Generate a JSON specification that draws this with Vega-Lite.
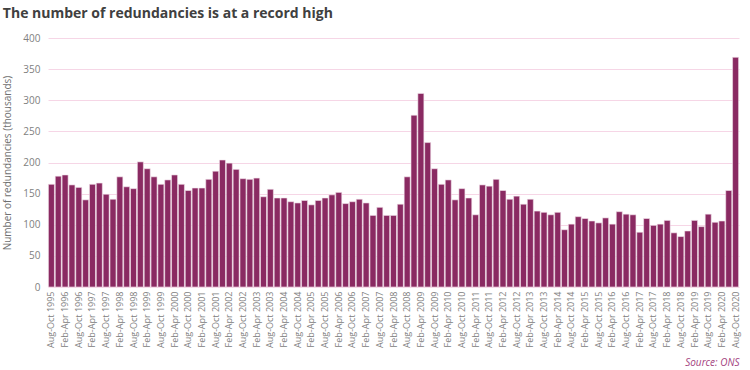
{
  "$schema": "https://vega.github.io/schema/vega-lite/v6.json",
  "width": 691,
  "height": 249,
  "autosize": {"type": "none"},
  "padding": {"left": 48, "top": 38, "right": 11, "bottom": 83},
  "background": "white",
  "title": {
    "text": "The number of redundancies is at a record high",
    "anchor": "start",
    "frame": "bounds",
    "font": "Open Sans",
    "fontSize": 14,
    "fontWeight": "bold",
    "color": "#404040",
    "offset": 12
  },
  "config": {
    "view": {"stroke": null},
    "font": "Open Sans"
  },
  "data": {
    "values": [
      {"period": "Aug-Oct 1995", "value": 165},
      {"period": "Nov-Jan 1996", "value": 178},
      {"period": "Feb-Apr 1996", "value": 180},
      {"period": "May-Jul 1996", "value": 164},
      {"period": "Aug-Oct 1996", "value": 160},
      {"period": "Nov-Jan 1997", "value": 140},
      {"period": "Feb-Apr 1997", "value": 165},
      {"period": "May-Jul 1997", "value": 167},
      {"period": "Aug-Oct 1997", "value": 149},
      {"period": "Nov-Jan 1998", "value": 141},
      {"period": "Feb-Apr 1998", "value": 177},
      {"period": "May-Jul 1998", "value": 161},
      {"period": "Aug-Oct 1998", "value": 158},
      {"period": "Nov-Jan 1999", "value": 201},
      {"period": "Feb-Apr 1999", "value": 190},
      {"period": "May-Jul 1999", "value": 177},
      {"period": "Aug-Oct 1999", "value": 165},
      {"period": "Nov-Jan 2000", "value": 172},
      {"period": "Feb-Apr 2000", "value": 180},
      {"period": "May-Jul 2000", "value": 165},
      {"period": "Aug-Oct 2000", "value": 155},
      {"period": "Nov-Jan 2001", "value": 159},
      {"period": "Feb-Apr 2001", "value": 159},
      {"period": "May-Jul 2001", "value": 173},
      {"period": "Aug-Oct 2001", "value": 186},
      {"period": "Nov-Jan 2002", "value": 204},
      {"period": "Feb-Apr 2002", "value": 199},
      {"period": "May-Jul 2002", "value": 189},
      {"period": "Aug-Oct 2002", "value": 174},
      {"period": "Nov-Jan 2003", "value": 173},
      {"period": "Feb-Apr 2003", "value": 175},
      {"period": "May-Jul 2003", "value": 145},
      {"period": "Aug-Oct 2003", "value": 157},
      {"period": "Nov-Jan 2004", "value": 143},
      {"period": "Feb-Apr 2004", "value": 143},
      {"period": "May-Jul 2004", "value": 137},
      {"period": "Aug-Oct 2004", "value": 135},
      {"period": "Nov-Jan 2005", "value": 139},
      {"period": "Feb-Apr 2005", "value": 132},
      {"period": "May-Jul 2005", "value": 139},
      {"period": "Aug-Oct 2005", "value": 143},
      {"period": "Nov-Jan 2006", "value": 148},
      {"period": "Feb-Apr 2006", "value": 152},
      {"period": "May-Jul 2006", "value": 134},
      {"period": "Aug-Oct 2006", "value": 137},
      {"period": "Nov-Jan 2007", "value": 141},
      {"period": "Feb-Apr 2007", "value": 135},
      {"period": "May-Jul 2007", "value": 115},
      {"period": "Aug-Oct 2007", "value": 128},
      {"period": "Nov-Jan 2008", "value": 115},
      {"period": "Feb-Apr 2008", "value": 115},
      {"period": "May-Jul 2008", "value": 133},
      {"period": "Aug-Oct 2008", "value": 177},
      {"period": "Nov-Jan 2009", "value": 276},
      {"period": "Feb-Apr 2009", "value": 311},
      {"period": "May-Jul 2009", "value": 232},
      {"period": "Aug-Oct 2009", "value": 190},
      {"period": "Nov-Jan 2010", "value": 165},
      {"period": "Feb-Apr 2010", "value": 172},
      {"period": "May-Jul 2010", "value": 140},
      {"period": "Aug-Oct 2010", "value": 158},
      {"period": "Nov-Jan 2011", "value": 143},
      {"period": "Feb-Apr 2011", "value": 116},
      {"period": "May-Jul 2011", "value": 164},
      {"period": "Aug-Oct 2011", "value": 162},
      {"period": "Nov-Jan 2012", "value": 173},
      {"period": "Feb-Apr 2012", "value": 155},
      {"period": "May-Jul 2012", "value": 141},
      {"period": "Aug-Oct 2012", "value": 146},
      {"period": "Nov-Jan 2013", "value": 133},
      {"period": "Feb-Apr 2013", "value": 141},
      {"period": "May-Jul 2013", "value": 122},
      {"period": "Aug-Oct 2013", "value": 120},
      {"period": "Nov-Jan 2014", "value": 116},
      {"period": "Feb-Apr 2014", "value": 120},
      {"period": "May-Jul 2014", "value": 92},
      {"period": "Aug-Oct 2014", "value": 101},
      {"period": "Nov-Jan 2015", "value": 113},
      {"period": "Feb-Apr 2015", "value": 110},
      {"period": "May-Jul 2015", "value": 106},
      {"period": "Aug-Oct 2015", "value": 103},
      {"period": "Nov-Jan 2016", "value": 111},
      {"period": "Feb-Apr 2016", "value": 101},
      {"period": "May-Jul 2016", "value": 121},
      {"period": "Aug-Oct 2016", "value": 117},
      {"period": "Nov-Jan 2017", "value": 116},
      {"period": "Feb-Apr 2017", "value": 88},
      {"period": "May-Jul 2017", "value": 110},
      {"period": "Aug-Oct 2017", "value": 99},
      {"period": "Nov-Jan 2018", "value": 101},
      {"period": "Feb-Apr 2018", "value": 107},
      {"period": "May-Jul 2018", "value": 87},
      {"period": "Aug-Oct 2018", "value": 81},
      {"period": "Nov-Jan 2019", "value": 90},
      {"period": "Feb-Apr 2019", "value": 107},
      {"period": "May-Jul 2019", "value": 97},
      {"period": "Aug-Oct 2019", "value": 117},
      {"period": "Nov-Jan 2020", "value": 104},
      {"period": "Feb-Apr 2020", "value": 106},
      {"period": "May-Jul 2020", "value": 155},
      {"period": "Aug-Oct 2020", "value": 369}
    ]
  },
  "mark": {"type": "bar", "color": "#8a2a62", "stroke": "#f4e4ec", "strokeWidth": 0.6},
  "encoding": {
    "x": {
      "field": "period",
      "type": "nominal",
      "sort": null,
      "scale": {"paddingInner": 0.12, "paddingOuter": 0.06},
      "axis": {
        "title": "Source: ONS",
        "titleAnchor": "end",
        "titleFontStyle": "italic",
        "titleFontWeight": "normal",
        "titleColor": "#a3417e",
        "titleFontSize": 10,
        "titlePadding": 10,
        "labelAngle": -90,
        "labelFontSize": 9,
        "labelColor": "#808080",
        "labelOverlap": false,
        "labelPadding": 4,
        "labelExpr": "(indexof(datum.value, 'Aug-Oct') == 0 || indexof(datum.value, 'Feb-Apr') == 0) ? datum.value : ''",
        "ticks": false,
        "domain": false
      }
    },
    "y": {
      "field": "value",
      "type": "quantitative",
      "scale": {"domain": [0, 400]},
      "axis": {
        "title": "Number of redundancies (thousands)",
        "titleFontSize": 10,
        "titleFontWeight": "normal",
        "titleColor": "#707070",
        "titlePadding": 10,
        "values": [0, 50, 100, 150, 200, 250, 300, 350, 400],
        "labelFontSize": 10,
        "labelColor": "#808080",
        "labelPadding": 8,
        "ticks": false,
        "domain": false,
        "gridColor": "#f6d6e6",
        "gridWidth": 1
      }
    }
  }
}
